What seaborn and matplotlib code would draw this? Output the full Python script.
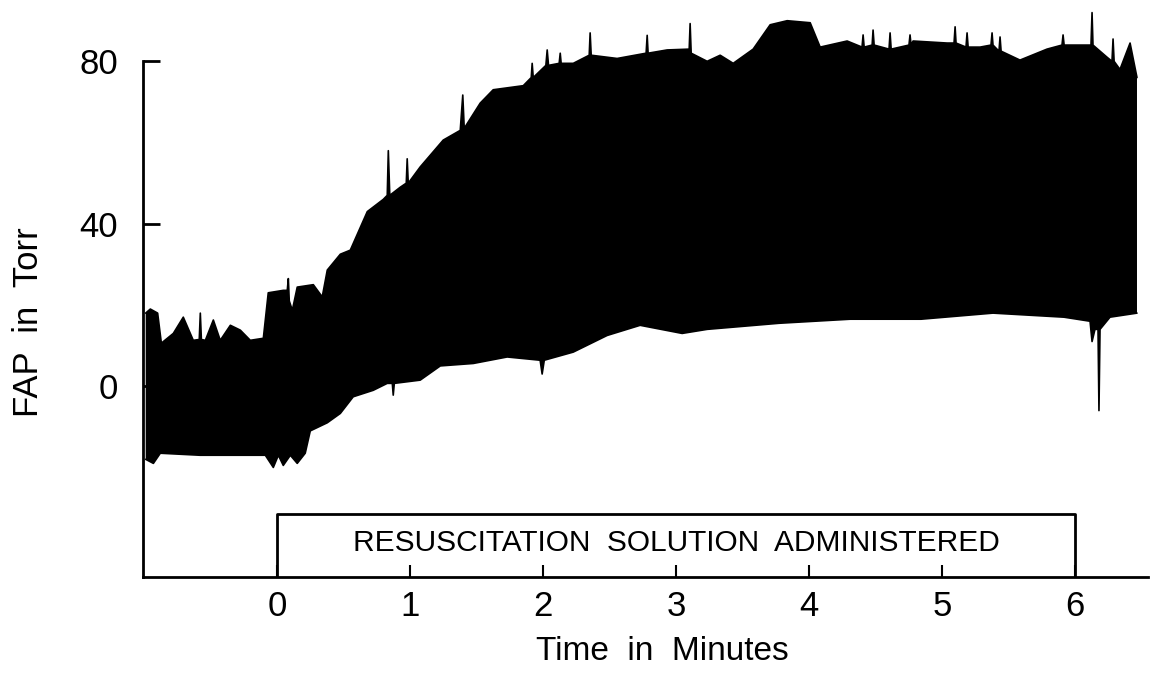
import numpy as np
import pandas as pd
import matplotlib.pyplot as plt
import seaborn as sns

# --- DATA: envelope of the FAP trace ---
upper_t = [-0.99, -0.955, -0.90, -0.872, -0.782, -0.707, -0.632, -0.587, -0.579, -0.571,
           -0.541, -0.481, -0.429, -0.353, -0.278, -0.203, -0.105, -0.068, 0.045, 0.075,
           0.083, 0.09, 0.113, 0.15, 0.271, 0.338, 0.376, 0.474, 0.549, 0.677,
           0.797, 0.827, 0.835, 0.846, 0.925, 0.97, 0.977, 0.985, 1.075, 1.248,
           1.376, 1.395, 1.406, 1.526, 1.624, 1.85, 1.91, 1.917, 1.925, 2.02,
           2.03, 2.04, 2.12, 2.128, 2.135, 2.226, 2.346, 2.353, 2.361, 2.556,
           2.774, 2.782, 2.789, 2.932, 3.098, 3.105, 3.113, 3.233, 3.331, 3.429,
           3.579, 3.707, 3.835, 4.008, 4.083, 4.286, 4.398, 4.406, 4.414, 4.474,
           4.481, 4.489, 4.601, 4.609, 4.617, 4.751, 4.759, 4.767, 4.782, 5.038,
           5.09, 5.098, 5.105, 5.18, 5.188, 5.196, 5.286, 5.368, 5.376, 5.383,
           5.428, 5.436, 5.444, 5.586, 5.789, 5.902, 5.91, 5.918, 6.12, 6.128,
           6.135, 6.241, 6.278, 6.286, 6.294, 6.338, 6.414, 6.466]
upper_v = [18, 19, 18, 10.6, 13, 17, 11.3, 11.5, 18, 11.5,
           11.3, 16.3, 11.3, 15, 13.8, 11.3, 11.8, 23, 23.6, 23.6,
           26.5, 21, 18.7, 24.4, 25, 22, 28.6, 32.5, 33.5, 43,
           46, 47, 58, 47, 49, 50, 56, 50, 54, 60.6,
           63, 71.7, 63.5, 69.7, 73, 74, 76, 79.5, 76, 79,
           82.8, 79, 79.5, 82, 79.5, 79.5, 81.5, 87, 81.5, 80.7,
           82, 86.4, 82, 82.8, 83, 89.3, 82, 80, 81.5, 79.5,
           83, 89, 90, 89.5, 83.5, 85, 83.5, 86.5, 83.5, 84,
           87.7, 84, 83, 87, 83, 84, 86.5, 84, 85, 84.5,
           84.5, 88.5, 84.5, 83.5, 87, 83.5, 83.5, 84, 87, 84,
           82.5, 86, 82.5, 80.3, 83, 84, 86.5, 84, 84, 92,
           84, 81, 80, 85.5, 80, 78, 84.5, 76]

lower_t = [-0.99, -0.932, -0.88, -0.58, -0.09, -0.03, 0.008, 0.045, 0.098, 0.15,
           0.21, 0.248, 0.376, 0.474, 0.571, 0.722, 0.827, 0.865, 0.872, 0.88,
           1.075, 1.226, 1.474, 1.729, 1.977, 1.992, 2.008, 2.226, 2.481, 2.729,
           3.045, 3.233, 3.774, 4.308, 4.842, 5.383, 5.917, 6.113, 6.128, 6.15,
           6.173, 6.18, 6.188, 6.263, 6.466]
lower_v = [-18, -19, -16.5, -17, -17, -20, -17, -19.5, -17, -19,
           -16.5, -11, -9, -6.7, -2.6, -1, 0.7, 0.7, -2.2, 0.7,
           1.5, 5, 5.6, 7.2, 6.4, 3, 6.4, 8.4, 12.5, 15,
           13, 14, 15.5, 16.5, 16.5, 18, 17, 16, 11, 14,
           14, -6, 14, 17, 18]

x_ticks = [0, 1, 2, 3, 4, 5, 6]
y_ticks = [0, 40, 80]
box_start, box_end, box_top = 0, 6, -31.5
box_text = "RESUSCITATION  SOLUTION  ADMINISTERED"

upper = pd.DataFrame({"t": upper_t, "fap": upper_v})
lower = pd.DataFrame({"t": lower_t, "fap": lower_v})

sns.set_style("ticks")
plt.rcParams["font.family"] = ["Liberation Sans", "DejaVu Sans"]
for key in ["text.color", "axes.labelcolor", "xtick.color", "ytick.color", "axes.edgecolor"]:
    plt.rcParams[key] = "black"

fig = plt.figure(figsize=(11.58, 6.87), dpi=100)
ax = fig.add_axes([0.1235, 0.160, 0.868, 0.840])

ymin, ymax = -47, 95.1

# the trace is so dense it reads as a solid band between the envelopes
poly_t = np.concatenate([upper["t"].values, lower["t"].values[::-1]])
poly_v = np.concatenate([upper["fap"].values, lower["fap"].values[::-1]])
ax.fill(poly_t, poly_v, color="black", lw=0)
sns.lineplot(data=upper, x="t", y="fap", color="black", lw=1.2, ax=ax, sort=False)
sns.lineplot(data=lower, x="t", y="fap", color="black", lw=1.2, ax=ax, sort=False)

# infusion marker box sitting on the time axis
ax.plot([box_start, box_start, box_end, box_end], [ymin, box_top, box_top, ymin],
        color="black", lw=2)
ax.text((box_start + box_end) / 2, -38.5, box_text, ha="center", va="center",
        fontsize=21.5)

ax.set_xlim(-1.01, 6.55)
ax.set_ylim(ymin, ymax)
ax.set_xticks(x_ticks)
ax.set_xticklabels([str(v) for v in x_ticks])
ax.set_yticks(y_ticks)
ax.set_yticklabels([str(v) for v in y_ticks])
ax.tick_params(axis="y", direction="in", length=12, width=2, labelsize=25, pad=18)
ax.tick_params(axis="x", direction="in", length=9, width=1.5, labelsize=25, pad=9)

sns.despine(ax=ax)
ax.spines["left"].set_bounds(ymin, 80)
ax.spines["left"].set_linewidth(2)
ax.spines["bottom"].set_linewidth(2)

ax.set_xlabel("Time  in  Minutes", fontsize=24)
ax.set_ylabel("FAP  in  Torr", fontsize=25)
ax.xaxis.set_label_coords(0.517, -0.102)
ax.yaxis.set_label_coords(-0.098, 0.442)

fig.savefig("out.png", dpi=100)
